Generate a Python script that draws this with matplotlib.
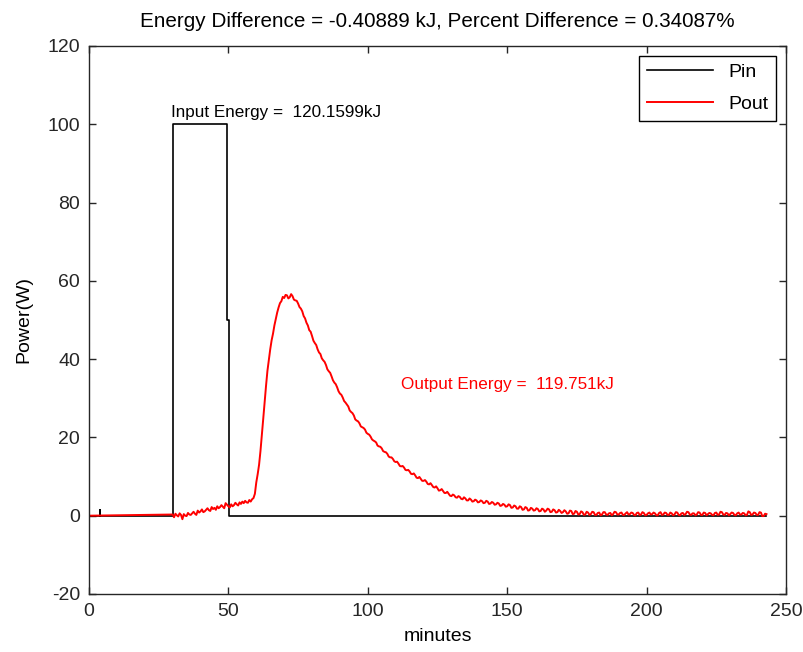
import matplotlib.pyplot as plt

plt.rcParams['font.family'] = ['Liberation Sans', 'DejaVu Sans']
plt.rcParams['axes.unicode_minus'] = False

# input power (step)
pin_t = [0, 3.9, 3.9, 3.9, 30, 30, 49.6, 49.6, 50.1, 50.1, 243]
pin_w = [0, 0, 1.5, 0, 0, 100, 100, 50, 50, 0, 0]

# output power, readings every half minute from 30 to 243 min
pout_t = [0] + [30 + 0.5 * i for i in range(427)]
pout_w = [0,
          # 30 - 50
          0.3, -0.4, 0.5, 0.1, -0.2, 0.6, 0.2, -0.9, 0.4, 0.0,
          -0.1, 0.7, 0.3, 0.2, 0.6, 1.0, 0.5, 0.2, 1.3, 0.8,
          1.1, 1.6, 0.9, 1.1, 1.5, 1.9, 1.4, 1.2, 2.2, 1.7,
          2.0, 1.5, 2.4, 1.9, 2.2, 2.7, 2.3, 1.9, 3.2, 2.8,
          # 50 - 60
          2.4, 2.1, 2.9, 2.4, 2.7, 3.3, 2.9, 2.6, 3.4, 3.0,
          3.6, 3.2, 3.8, 3.4, 3.3, 4.0, 3.6, 4.2, 4.5, 5.6,
          # 60 - 70
          8.5, 10.6, 13.0, 16.5, 20.5, 24.8, 29.0, 33.2, 37.0, 39.8,
          42.5, 44.8, 46.5, 48.6, 50.3, 51.9, 53.2, 54.3, 54.8, 55.9,
          # 70 - 80
          55.6, 56.4, 56.3, 55.5, 55.8, 56.6, 56.1, 55.2, 55.0, 54.9,
          54.2, 53.3, 52.9, 52.2, 51.0, 50.4, 49.3, 48.6, 47.4, 47.0,
          # 80 - 90
          45.9, 44.7, 44.1, 43.6, 42.5, 41.7, 41.3, 40.2, 39.7, 39.3,
          38.5, 37.4, 36.9, 36.5, 35.6, 34.6, 34.0, 33.6, 32.8, 31.8,
          # 90 - 100
          31.2, 30.9, 30.2, 29.3, 28.9, 28.4, 27.9, 26.9, 26.5, 26.2,
          25.6, 24.6, 24.3, 24.1, 23.6, 22.8, 22.6, 22.4, 22.0, 21.2,
          # 100 - 110
          20.9, 20.7, 20.2, 19.5, 19.2, 19.0, 18.7, 17.9, 17.7, 17.6,
          17.2, 16.5, 16.3, 16.2, 15.8, 15.1, 14.9, 14.9, 14.5, 13.9,
          # 110 - 120
          13.7, 13.8, 13.3, 12.7, 12.6, 12.7, 12.3, 11.7, 11.6, 11.7,
          11.3, 10.7, 10.6, 10.8, 10.3, 9.7, 9.6, 9.9, 9.4, 8.9,
          # 120 - 130
          8.9, 9.1, 8.7, 8.1, 8.0, 8.3, 7.8, 7.3, 7.2, 7.5,
          7.0, 6.4, 6.5, 6.8, 6.3, 5.8, 5.8, 6.1, 5.6, 5.1,
          # 130 - 140
          5.0, 5.4, 5.2, 4.7, 4.6, 5.0, 4.8, 4.3, 4.2, 4.7,
          4.4, 3.9, 3.9, 4.4, 4.1, 3.6, 3.7, 4.1, 3.9, 3.4,
          # 140 - 150
          3.5, 3.9, 3.7, 3.2, 3.3, 3.8, 3.6, 3.0, 3.1, 3.5,
          3.3, 2.8, 2.9, 3.3, 3.1, 2.5, 2.6, 3.0, 2.8, 2.3,
          # 150 - 160
          2.4, 2.9, 2.7, 2.0, 2.1, 2.6, 2.4, 1.8, 1.8, 2.4,
          2.2, 1.5, 1.6, 2.2, 2.0, 1.3, 1.4, 2.0, 1.8, 1.3,
          # 160 - 170
          1.4, 1.9, 1.7, 1.1, 1.2, 1.8, 1.6, 1.0, 1.3, 1.8,
          1.6, 0.9, 1.0, 1.6, 1.4, 0.8, 0.9, 1.5, 1.2, 0.7,
          # 170 - 180
          0.9, 1.4, 1.1, 0.5, 0.6, 1.3, 1.2, 0.4, 0.5, 1.2,
          1.0, 0.3, 0.4, 1.1, 0.9, 0.2, 0.3, 1.0, 0.8, 0.2,
          # 180 - 190
          0.4, 1.0, 0.9, 0.2, 0.2, 0.7, 0.8, 0.1, 0.3, 0.9,
          0.9, 0.3, 0.2, 0.6, 0.7, 0.1, 0.4, 1.0, 0.9, 0.3,
          # 190 - 200
          0.3, 0.7, 0.8, 0.2, 0.2, 0.6, 0.9, 0.3, 0.4, 0.8,
          0.7, 0.2, 0.1, 0.7, 0.8, 0.2, 0.3, 0.9, 0.7, 0.1,
          # 200 - 210
          0.2, 0.6, 0.8, 0.3, 0.4, 0.8, 0.6, 0.1, 0.1, 0.7,
          0.9, 0.2, 0.3, 0.8, 0.7, 0.2, 0.2, 0.8, 0.6, 0.1,
          # 210 - 220
          0.3, 0.9, 0.8, 0.2, 0.1, 0.6, 0.7, 0.2, 0.4, 1.0,
          0.9, 0.3, 0.2, 0.6, 0.6, 0.1, 0.3, 0.9, 0.8, 0.2,
          # 220 - 230
          0.2, 0.8, 0.7, 0.1, 0.4, 0.7, 0.6, 0.2, 0.1, 0.7,
          0.8, 0.2, 0.3, 1.0, 0.9, 0.3, 0.2, 0.7, 0.6, 0.1,
          # 230 - 240
          0.4, 0.8, 0.7, 0.2, 0.1, 0.6, 0.8, 0.3, 0.3, 0.7,
          0.6, 0.1, 0.2, 1.1, 0.9, 0.2, 0.3, 0.8, 0.7, 0.2,
          # 240 - 243
          0.2, 0.9, 0.8, -0.1, -0.1, 0.5, 0.4]

title = 'Energy Difference = -0.40889 kJ, Percent Difference = 0.34087%'
in_label = 'Input Energy =  120.1599kJ'
out_label = 'Output Energy =  119.751kJ'

fig = plt.figure(figsize=(8.04, 6.52), dpi=100)
ax = fig.add_axes([0.1107, 0.089, 0.8669, 0.8405])

ax.plot(pin_t, pin_w, color='k', lw=1.2, label='Pin')
ax.plot(pout_t, pout_w, color='#ff0000', lw=1.4, label='Pout')

ax.text(29.3, 103, in_label, fontsize=12.3, va='center', color='k')
ax.text(112, 33.4, out_label, fontsize=12.3, va='center', color='#ff0000')

ax.set_xlim(0, 250)
ax.set_ylim(-20, 120)
ax.set_xticks(range(0, 251, 50))
ax.set_yticks(range(-20, 121, 20))
ax.tick_params(direction='in', top=True, right=True, length=5, labelsize=14,
               width=1, colors='#262626', pad=6.5)
for s in ax.spines.values():
    s.set_color('#262626')
    s.set_linewidth(1)

ax.set_xlabel('minutes', fontsize=14, labelpad=6)
ax.set_ylabel('Power(W)', fontsize=14, labelpad=11)
ax.set_title(title, fontsize=14.9, pad=14)

leg = ax.legend(loc='upper right', fontsize=14, fancybox=False, framealpha=1,
                edgecolor='k', borderaxespad=0.5, handlelength=3.4,
                labelspacing=0.75)
leg.get_frame().set_linewidth(1)

fig.savefig('out.png', dpi=100)
